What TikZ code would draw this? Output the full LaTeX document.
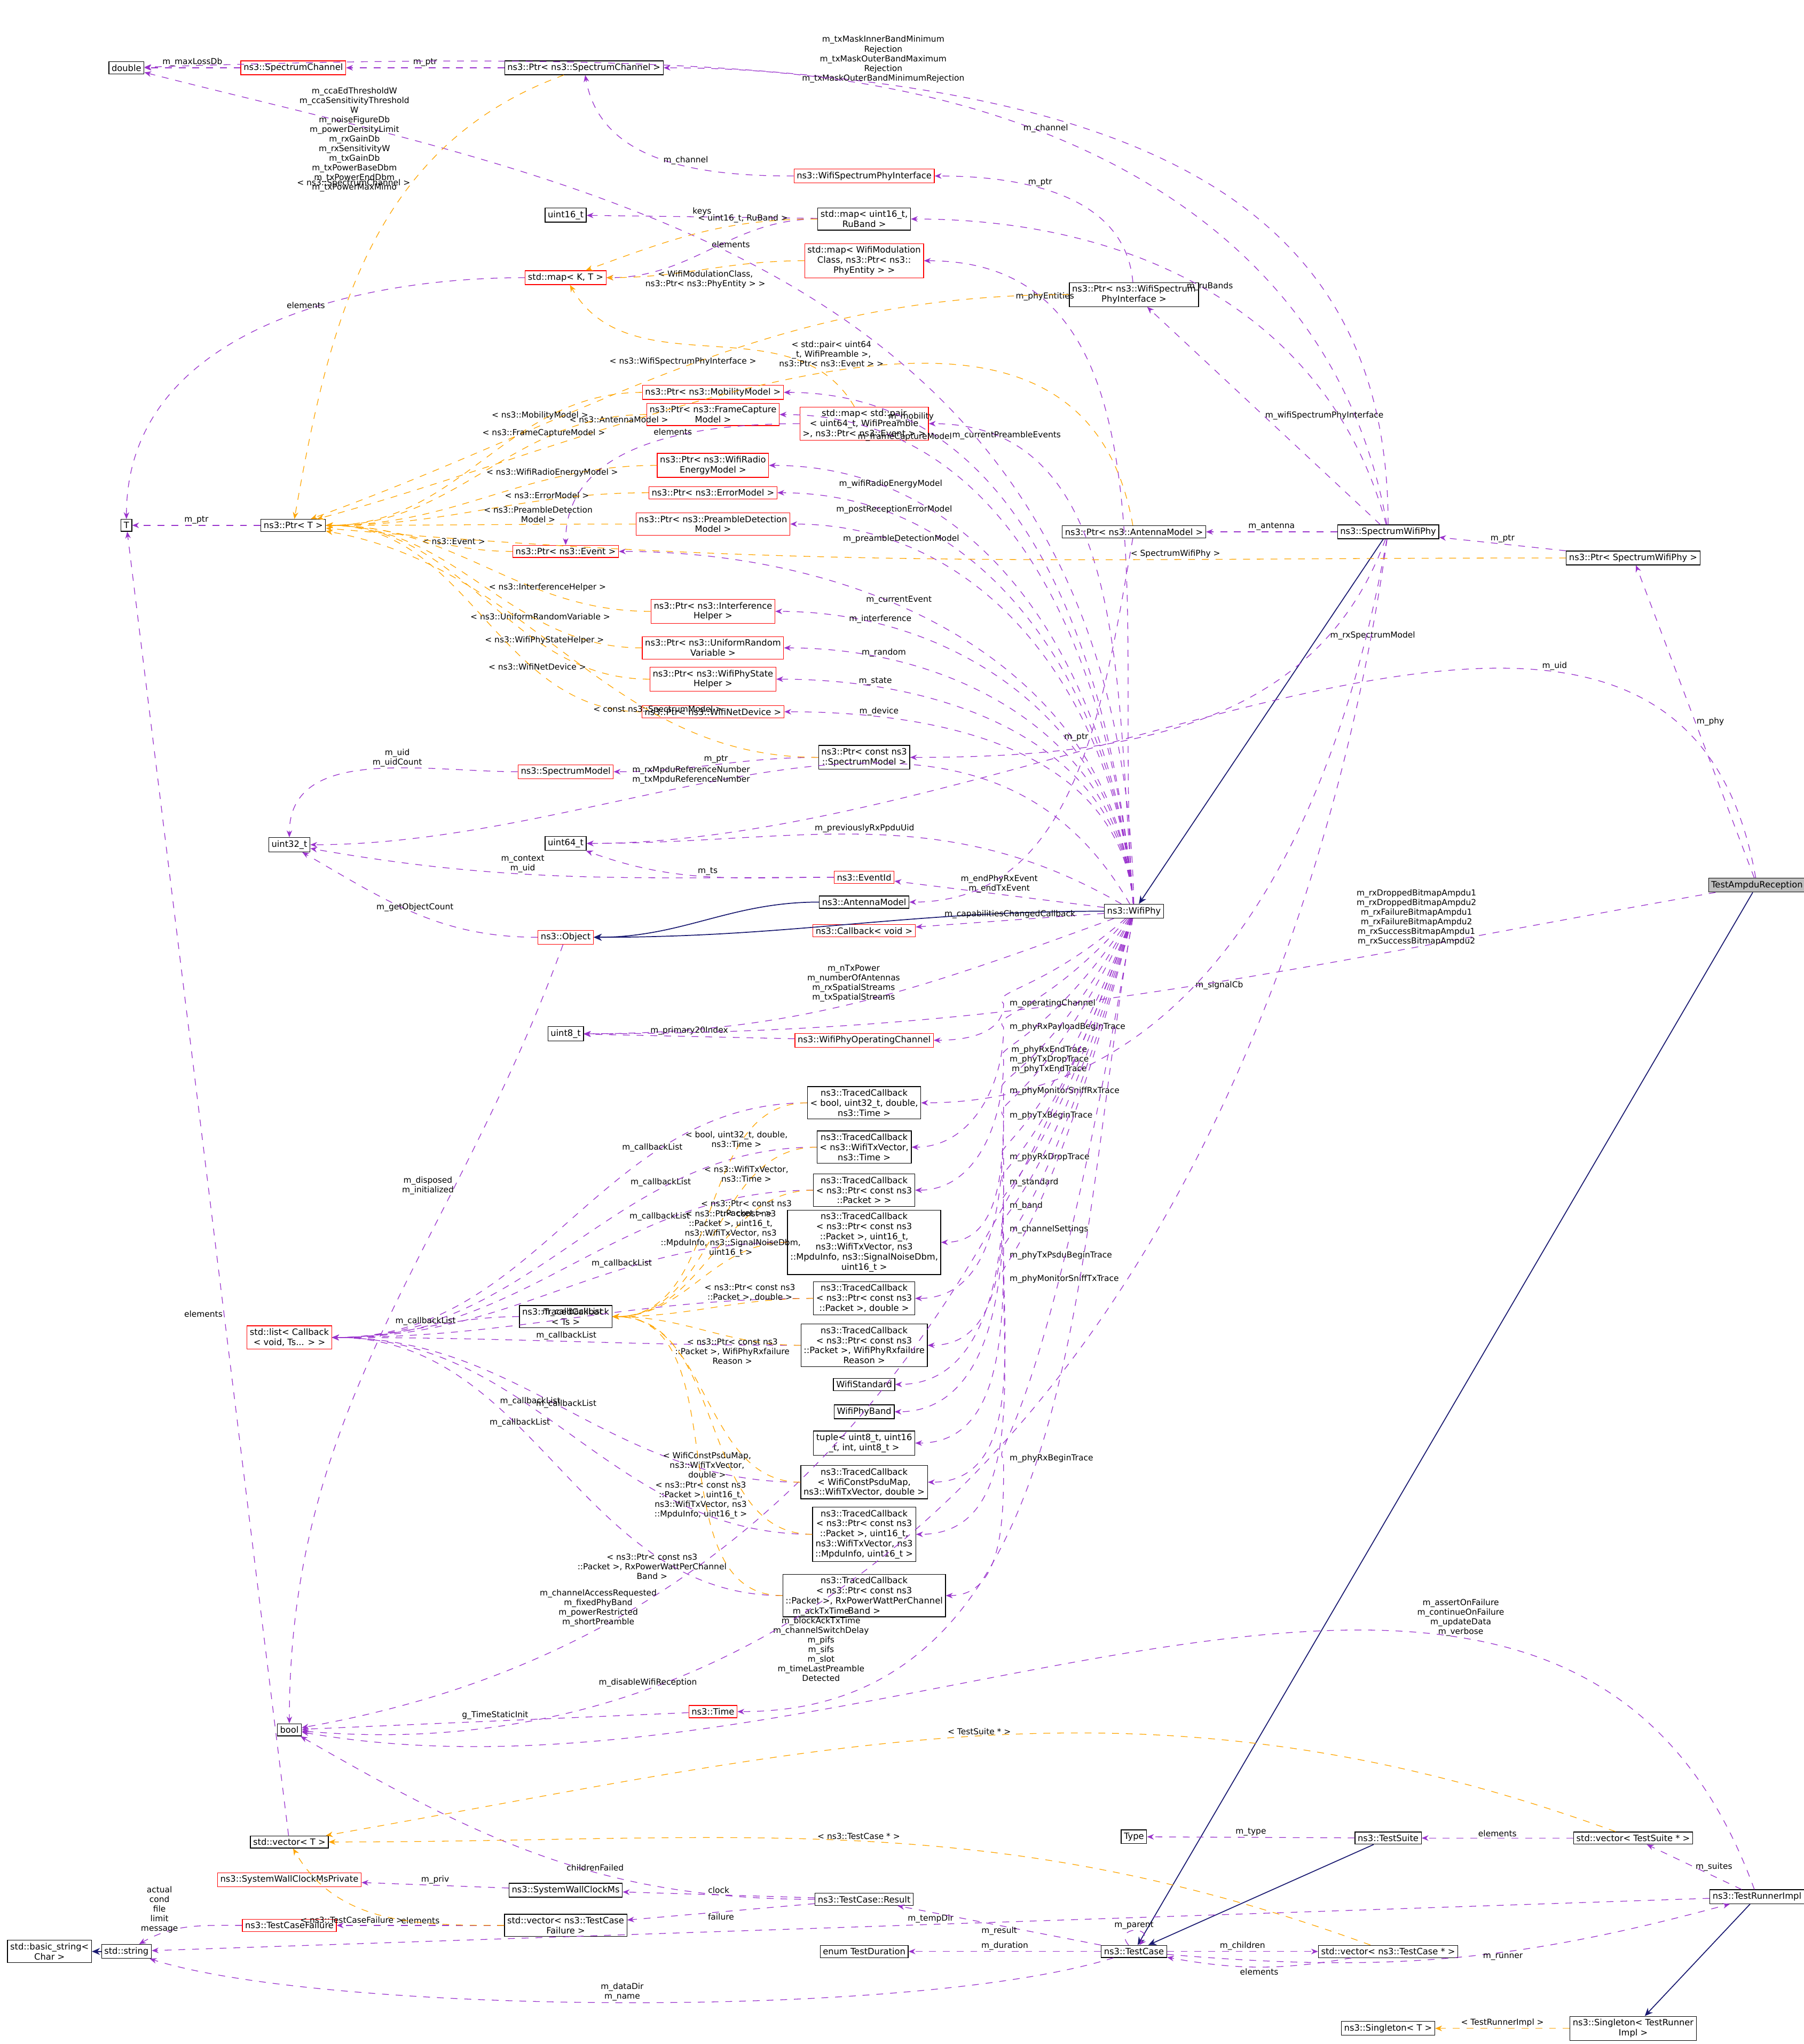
\documentclass[tikz,border=0pt]{standalone}
\usepackage{fontspec}
\setmainfont{DejaVu Sans}
\usetikzlibrary{arrows.meta}
\definecolor{mcol}{RGB}{153,50,204}
\definecolor{tcol}{RGB}{255,165,0}
\definecolor{icol}{RGB}{25,25,112}
\tikzset{
  cls/.style={shape=rectangle, draw=black, line width=0.3pt, fill=white, inner sep=1.2pt, align=center, font=\fontsize{3.8}{4.4}\selectfont},
  redcls/.style={cls, draw=red},
  mem/.style={draw=mcol, dashed, line width=0.3pt, -{Stealth[length=3pt,width=2.4pt]}},
  tpl/.style={draw=tcol, dashed, line width=0.3pt, -{Stealth[length=3pt,width=2.4pt]}},
  inh/.style={draw=icol, line width=0.4pt, -{Stealth[length=3.5pt,width=3pt]}},
  lbl/.style={font=\fontsize{3.6}{4.2}\selectfont, align=center, inner sep=0.5pt},
  fromtop/.style={out=95, in=0},
  toleft/.style={out=180, in=0}
}
\begin{document}
\begin{tikzpicture}[x=0.02cm, y=-0.02cm]
  \useasboundingbox (0,0) rectangle (1384,1568);
  % nodes
  \node[cls] at (97,52) (dbl) {double};
  \node[redcls] at (225,52) (spchan) {ns3::SpectrumChannel};
  \node[cls] at (448,52) (ptrspchan) {ns3::Ptr< ns3::SpectrumChannel >};
  \node[redcls] at (663,135) (wspi) {ns3::WifiSpectrumPhyInterface};
  \node[cls] at (434,165) (u16) {uint16\_t};
  \node[cls] at (663,168) (mapru) {std::map< uint16\_t,\\RuBand >};
  \node[redcls] at (663,200) (mapmod) {std::map< WifiModulation\\Class, ns3::Ptr< ns3::\\PhyEntity > >};
  \node[redcls] at (434,213) (mapkt) {std::map< K, T >};
  \node[cls] at (870,226) (ptrwspi) {ns3::Ptr< ns3::WifiSpectrum\\PhyInterface >};
  \node[redcls] at (547,301) (ptrmob) {ns3::Ptr< ns3::MobilityModel >};
  \node[redcls] at (547,318) (ptrfc) {ns3::Ptr< ns3::FrameCapture\\Model >};
  \node[redcls] at (663,325) (mappair) {std::map< std::pair\\< uint64\_t, WifiPreamble\\>, ns3::Ptr< ns3::Event > >};
  \node[redcls] at (547,357) (ptrenergy) {ns3::Ptr< ns3::WifiRadio\\EnergyModel >};
  \node[redcls] at (547,378) (ptrerr) {ns3::Ptr< ns3::ErrorModel >};
  \node[redcls] at (547,402) (ptrpre) {ns3::Ptr< ns3::PreambleDetection\\Model >};
  \node[cls] at (97,403) (tT) {T};
  \node[cls] at (225,403) (ptrT) {ns3::Ptr< T >};
  \node[redcls] at (434,423) (ptrev) {ns3::Ptr< ns3::Event >};
  \node[cls] at (870,408) (ptrant) {ns3::Ptr< ns3::AntennaModel >};
  \node[cls] at (1065,408) (swphy) {ns3::SpectrumWifiPhy};
  \node[cls] at (1253,428) (ptrswphy) {ns3::Ptr< SpectrumWifiPhy >};
  \node[redcls] at (547,469) (ptrint) {ns3::Ptr< ns3::Interference\\Helper >};
  \node[redcls] at (547,497) (ptrrand) {ns3::Ptr< ns3::UniformRandom\\Variable >};
  \node[redcls] at (547,521) (ptrstate) {ns3::Ptr< ns3::WifiPhyState\\Helper >};
  \node[redcls] at (547,546) (ptrdev) {ns3::Ptr< ns3::WifiNetDevice >};
  \node[cls] at (663,581) (ptrsm) {ns3::Ptr< const ns3\\::SpectrumModel >};
  \node[redcls] at (434,592) (specmodel) {ns3::SpectrumModel};
  \node[cls] at (222,648) (u32) {uint32\_t};
  \node[cls] at (434,647) (u64) {uint64\_t};
  \node[redcls] at (663,673) (evid) {ns3::EventId};
  \node[cls] at (663,692) (antmodel) {ns3::AntennaModel};
  \node[redcls] at (663,714) (cbvoid) {ns3::Callback< void >};
  \node[redcls] at (434,719) (object) {ns3::Object};
  \node[cls] at (870,699) (wifiphy) {ns3::WifiPhy};
  \node[cls, fill=black!25] at (1348,679) (ampdu) {TestAmpduReception};
  \node[cls] at (434,793) (u8) {uint8\_t};
  \node[redcls] at (663,798) (opchan) {ns3::WifiPhyOperatingChannel};
  \node[cls] at (663,846) (tcbool) {ns3::TracedCallback\\< bool, uint32\_t, double,\\ns3::Time >};
  \node[cls] at (663,880) (tctx) {ns3::TracedCallback\\< ns3::WifiTxVector,\\ns3::Time >};
  \node[cls] at (663,913) (tcpkt) {ns3::TracedCallback\\< ns3::Ptr< const ns3\\::Packet > >};
  \node[cls] at (663,953) (tcsniffrx) {ns3::TracedCallback\\< ns3::Ptr< const ns3\\::Packet >, uint16\_t,\\ns3::WifiTxVector, ns3\\::MpduInfo, ns3::SignalNoiseDbm,\\uint16\_t >};
  \node[cls] at (663,996) (tcpktd) {ns3::TracedCallback\\< ns3::Ptr< const ns3\\::Packet >, double >};
  \node[cls] at (434,1010) (tcts) {ns3::TracedCallback\\< Ts >};
  \node[redcls] at (222,1026) (cblist) {std::list< Callback\\< void, Ts... > >};
  \node[cls] at (663,1032) (tcfail) {ns3::TracedCallback\\< ns3::Ptr< const ns3\\::Packet >, WifiPhyRxfailure\\Reason >};
  \node[cls] at (663,1062) (wstd) {WifiStandard};
  \node[cls] at (663,1083) (wband) {WifiPhyBand};
  \node[cls] at (663,1107) (tuple) {tuple< uint8\_t, uint16\\\_t, int, uint8\_t >};
  \node[cls] at (663,1137) (tcpsdu) {ns3::TracedCallback\\< WifiConstPsduMap,\\ns3::WifiTxVector, double >};
  \node[cls] at (663,1177) (tcsnifftx) {ns3::TracedCallback\\< ns3::Ptr< const ns3\\::Packet >, uint16\_t,\\ns3::WifiTxVector, ns3\\::MpduInfo, uint16\_t >};
  \node[cls] at (663,1224) (tcrxp) {ns3::TracedCallback\\< ns3::Ptr< const ns3\\::Packet >, RxPowerWattPerChannel\\Band >};
  \node[redcls] at (547,1313) (time) {ns3::Time};
  \node[cls] at (222,1327) (bool) {bool};
  \node[cls] at (870,1409) (type) {Type};
  \node[cls] at (1065,1410) (suite) {ns3::TestSuite};
  \node[cls] at (1253,1410) (vsuite) {std::vector< TestSuite * >};
  \node[cls] at (222,1413) (vecT) {std::vector< T >};
  \node[redcls] at (222,1442) (swcmp) {ns3::SystemWallClockMsPrivate};
  \node[cls] at (434,1450) (swcm) {ns3::SystemWallClockMs};
  \node[cls] at (663,1457) (result) {ns3::TestCase::Result};
  \node[cls] at (434,1477) (vfail) {std::vector< ns3::TestCase\\Failure >};
  \node[redcls] at (222,1477) (tcfailure) {ns3::TestCaseFailure};
  \node[cls] at (38,1497) (bstr) {std::basic\_string<\\Char >};
  \node[cls] at (97,1497) (str) {std::string};
  \node[cls] at (663,1497) (dur) {enum TestDuration};
  \node[cls] at (870,1497) (testcase) {ns3::TestCase};
  \node[cls] at (1065,1497) (vtc) {std::vector< ns3::TestCase * >};
  \node[cls] at (1348,1455) (runner) {ns3::TestRunnerImpl};
  \node[cls] at (1065,1556) (singT) {ns3::Singleton< T >};
  \node[cls] at (1253,1556) (singR) {ns3::Singleton< TestRunner\\Impl >};

  % inheritance
  \draw[inh] (swphy) -- (wifiphy);
  \draw[inh] (wifiphy) to[out=180, in=0] (object);
  \draw[inh] (antmodel) to[out=180, in=0] (object);
  \draw[inh] (ampdu) -- (testcase);
  \draw[inh] (suite) -- (testcase);
  \draw[inh] (runner) -- (singR);
  \draw[inh] (str) -- (bstr);

  % members
  \draw[mem] (spchan) -- node[lbl, above]{m\_maxLossDb} (dbl);
  \draw[mem] (ptrspchan) -- node[lbl, above]{m\_ptr} (spchan);
  \draw[mem] (swphy) .. controls (1065,60) and (700,32) .. node[lbl, pos=0.62, above]{m\_txMaskInnerBandMinimum\\Rejection\\m\_txMaskOuterBandMaximum\\Rejection\\m\_txMaskOuterBandMinimumRejection} (dbl);
  \draw[mem] (swphy) to[out=100, in=0] node[lbl, pos=0.6, above]{m\_channel} (ptrspchan);
  \draw[mem] (wspi) to[out=180, in=-80] node[lbl, pos=0.4, above]{m\_channel} (ptrspchan);
  \draw[mem] (ptrwspi) to[out=95, in=0] node[lbl, pos=0.6, above]{m\_ptr} (wspi);
  \draw[mem] (swphy) to[out=105, in=0] node[lbl, pos=0.5, above]{m\_ruBands} (mapru);
  \draw[mem] (mapru) -- node[lbl, above]{keys} (u16);
  \draw[mem] (mapru) to[out=180, in=0] node[lbl, pos=0.4, below]{elements} (mapkt);
  \draw[mem] (swphy) -- node[lbl, right]{m\_wifiSpectrumPhyInterface} (ptrwspi);
  \draw[mem] (wifiphy) .. controls (860,200) and (440,140) .. node[lbl, pos=0.8, left]{m\_ccaEdThresholdW\\m\_ccaSensitivityThreshold\\W\\m\_noiseFigureDb\\m\_powerDensityLimit\\m\_rxGainDb\\m\_rxSensitivityW\\m\_txGainDb\\m\_txPowerBaseDbm\\m\_txPowerEndDbm\\m\_txPowerMaxMimo} (dbl);
  \draw[mem] (wifiphy) to[fromtop] node[lbl, pos=0.8, above]{m\_phyEntities} (mapmod);
  \draw[mem] (mapkt) to[out=180, in=90] node[lbl, pos=0.4, above]{elements} (tT);
  \draw[mem] (wifiphy) to[fromtop] node[lbl, pos=0.8, above]{m\_mobility} (ptrmob);
  \draw[mem] (wifiphy) to[fromtop] node[lbl, pos=0.8, above]{m\_frameCaptureModel} (ptrfc);
  \draw[mem] (wifiphy) to[fromtop] node[lbl, pos=0.85, above]{m\_currentPreambleEvents} (mappair);
  \draw[mem] (mappair) to[out=180, in=90] node[lbl, pos=0.4, above]{elements} (ptrev);
  \draw[mem] (wifiphy) to[fromtop] node[lbl, pos=0.8, above]{m\_wifiRadioEnergyModel} (ptrenergy);
  \draw[mem] (wifiphy) to[fromtop] node[lbl, pos=0.8, above]{m\_postReceptionErrorModel} (ptrerr);
  \draw[mem] (wifiphy) to[fromtop] node[lbl, pos=0.8, above]{m\_preambleDetectionModel} (ptrpre);
  \draw[mem] (wifiphy) to[fromtop] node[lbl, pos=0.6, above]{m\_currentEvent} (ptrev);
  \draw[mem] (ptrT) -- node[lbl, above]{m\_ptr} (tT);
  \draw[mem] (swphy) -- node[lbl, above]{m\_antenna} (ptrant);
  \draw[mem] (ptrswphy) -- node[lbl, above]{m\_ptr} (swphy);
  \draw[mem] (wifiphy) to[fromtop] node[lbl, pos=0.8, above]{m\_interference} (ptrint);
  \draw[mem] (wifiphy) to[fromtop] node[lbl, pos=0.8, above]{m\_random} (ptrrand);
  \draw[mem] (wifiphy) to[fromtop] node[lbl, pos=0.8, above]{m\_state} (ptrstate);
  \draw[mem] (wifiphy) to[fromtop] node[lbl, pos=0.8, above]{m\_device} (ptrdev);
  \draw[mem] (swphy) to[out=250, in=0] node[lbl, pos=0.2, right]{m\_rxSpectrumModel} (ptrsm);
  \draw[mem] (ptrsm) to[out=180, in=0] node[lbl, above]{m\_ptr} (specmodel);
  \draw[mem] (specmodel) to[out=180, in=90] node[lbl, pos=0.4, above]{m\_uid\\m\_uidCount} (u32);
  \draw[mem] (ampdu) -- node[lbl, right]{m\_phy} (ptrswphy);
  \draw[mem] (ampdu) to[out=100, in=0] node[lbl, pos=0.3, above]{m\_uid} (u64);
  \draw[mem] (ptrant) to[out=260, in=0] node[lbl, pos=0.4, left]{m\_ptr} (antmodel);
  \draw[mem] (wifiphy) to[out=120, in=0] node[lbl, pos=0.6, above]{m\_rxMpduReferenceNumber\\m\_txMpduReferenceNumber} (u32);
  \draw[mem] (wifiphy) to[out=150, in=0] node[lbl, pos=0.5, above]{m\_previouslyRxPpduUid} (u64);
  \draw[mem] (evid) to[out=180, in=-20] node[lbl, above]{m\_ts} (u64);
  \draw[mem] (evid) to[out=180, in=-10] node[lbl, pos=0.6, above]{m\_context\\m\_uid} (u32);
  \draw[mem] (wifiphy) -- node[lbl, above]{m\_endPhyRxEvent\\m\_endTxEvent} (evid);
  \draw[mem] (wifiphy) -- node[lbl, above]{m\_capabilitiesChangedCallback} (cbvoid);
  \draw[mem] (object) to[out=180, in=-30] node[lbl, above]{m\_getObjectCount} (u32);
  \draw[mem] (object) to[out=250, in=90] node[lbl, pos=0.3, left]{m\_disposed\\m\_initialized} (bool);
  \draw[mem] (wifiphy) to[out=200, in=0] node[lbl, pos=0.5, above]{m\_nTxPower\\m\_numberOfAntennas\\m\_rxSpatialStreams\\m\_txSpatialStreams} (u8);
  \draw[mem] (opchan) -- node[lbl, above]{m\_primary20Index} (u8);
  \draw[mem] (swphy) to[out=260, in=0] node[lbl, pos=0.6, right]{m\_signalCb} (tcbool);
  \draw[mem] (ampdu) to[out=190, in=0] node[lbl, pos=0.25, above]{m\_rxDroppedBitmapAmpdu1\\m\_rxDroppedBitmapAmpdu2\\m\_rxFailureBitmapAmpdu1\\m\_rxFailureBitmapAmpdu2\\m\_rxSuccessBitmapAmpdu1\\m\_rxSuccessBitmapAmpdu2} (u8);
  % WifiPhy members below it: run down at x=760 then turn left into the target
  \foreach \tg/\tx/\ly in {opchan/{m\_operatingChannel}/760, tctx/{m\_phyRxPayloadBeginTrace}/778, tcpkt/{m\_phyRxEndTrace\\m\_phyTxDropTrace\\m\_phyTxEndTrace}/803, tcsniffrx/{m\_phyMonitorSniffRxTrace}/827, tcpktd/{m\_phyTxBeginTrace}/846, tcfail/{m\_phyRxDropTrace}/878, wstd/{m\_standard}/897, wband/{m\_band}/915, tuple/{m\_channelSettings}/933, tcpsdu/{m\_phyTxPsduBeginTrace}/953, tcsnifftx/{m\_phyMonitorSniffTxTrace}/971, tcrxp/{m\_phyRxBeginTrace}/1109}
    \draw[mem] (wifiphy) .. controls (800,\ly) and (760,\ly) .. node[lbl, pos=1, anchor=west, xshift=2pt]{\tx} (770,\ly+10) to[out=270, in=0] (\tg);
  \foreach \tc/\p in {tcbool/0.3, tctx/0.3, tcpkt/0.3, tcsniffrx/0.35, tcpktd/0.5, tcfail/0.5, tcpsdu/0.5, tcsnifftx/0.6, tcrxp/0.6, tcts/0.5}
    \draw[mem] (\tc) to[toleft] node[lbl, pos=\p, above]{m\_callbackList} (cblist);
  \draw[mem] (wifiphy) to[out=250, in=10] node[lbl, pos=0.75, above]{m\_channelAccessRequested\\m\_fixedPhyBand\\m\_powerRestricted\\m\_shortPreamble} (bool);
  \draw[mem] (wifiphy) to[out=260, in=0] node[lbl, pos=0.85, above left]{m\_ackTxTime\\m\_blockAckTxTime\\m\_channelSwitchDelay\\m\_pifs\\m\_sifs\\m\_slot\\m\_timeLastPreamble\\Detected} (time);
  \draw[mem] (time) -- node[lbl, above]{g\_TimeStaticInit} (bool);
  \draw[mem] (swphy) to[out=262, in=-5] node[lbl, pos=0.8, above]{m\_disableWifiReception} (bool);
  \draw[mem] (runner) to[out=110, in=-10] node[lbl, pos=0.3, above]{m\_assertOnFailure\\m\_continueOnFailure\\m\_updateData\\m\_verbose} (bool);
  \draw[mem] (result) to[out=180, in=-30] node[lbl, pos=0.4, above]{childrenFailed} (bool);
  \draw[mem] (vecT) -- node[lbl, pos=0.4, left]{elements} (tT);
  \draw[mem] (suite) -- node[lbl, above]{m\_type} (type);
  \draw[mem] (vsuite) -- node[lbl, above]{elements} (suite);
  \draw[mem] (runner) -- node[lbl, right]{m\_suites} (vsuite);
  \draw[mem] (swcm) -- node[lbl, above]{m\_priv} (swcmp);
  \draw[mem] (result) -- node[lbl, above]{clock} (swcm);
  \draw[mem] (result) -- node[lbl, below]{failure} (vfail);
  \draw[mem] (vfail) -- node[lbl, above]{elements} (tcfailure);
  \draw[mem] (tcfailure) to[out=180, in=30] node[lbl, pos=0.8, above]{actual\\cond\\file\\limit\\message} (str);
  \draw[mem] (runner) -- node[lbl, pos=0.5, above]{m\_tempDir} (str);
  \draw[mem] (testcase) -- node[lbl, below]{m\_result} (result);
  \draw[mem] (testcase) -- node[lbl, above]{m\_duration} (dur);
  \draw[mem] (testcase) to[out=130, in=50, looseness=6] node[lbl, above]{m\_parent} (testcase);
  \draw[mem] (testcase) -- node[lbl, above]{m\_children} (vtc);
  \draw[mem] (vtc) to[bend left=10] node[lbl, below]{elements} (testcase);
  \draw[mem] (testcase) to[bend right=10] node[lbl, pos=0.6, below]{m\_runner} (runner);
  \draw[mem] (testcase) .. controls (700,1550) and (250,1545) .. node[lbl, pos=0.5, above]{m\_dataDir\\m\_name} (str);

  % templates
  \draw[tpl] (ptrspchan) to[out=200, in=80] node[lbl, pos=0.35, left]{< ns3::SpectrumChannel >} (ptrT);
  \draw[tpl] (mapru) to[out=180, in=20] node[lbl, pos=0.3, above]{< uint16\_t, RuBand >} (mapkt);
  \draw[tpl] (mapmod) to[out=180, in=0] node[lbl, pos=0.5, below]{< WifiModulationClass,\\ns3::Ptr< ns3::PhyEntity > >} (mapkt);
  \draw[tpl] (mappair) to[out=120, in=-60] node[lbl, pos=0.3, right]{< std::pair< uint64\\\_t, WifiPreamble >,\\ns3::Ptr< ns3::Event > >} (mapkt);
  \draw[tpl] (ptrwspi) to[out=180, in=20] node[lbl, pos=0.5, above]{< ns3::WifiSpectrumPhyInterface >} (ptrT);
  \draw[tpl] (ptrant) to[out=100, in=15] node[lbl, pos=0.7, above]{< ns3::AntennaModel >} (ptrT);
  \foreach \pp/\tx in {ptrmob/{< ns3::MobilityModel >}, ptrfc/{< ns3::FrameCaptureModel >}, ptrenergy/{< ns3::WifiRadioEnergyModel >}, ptrerr/{< ns3::ErrorModel >}, ptrpre/{< ns3::PreambleDetection\\Model >}, ptrev/{< ns3::Event >}, ptrint/{< ns3::InterferenceHelper >}, ptrrand/{< ns3::UniformRandomVariable >}, ptrstate/{< ns3::WifiPhyStateHelper >}, ptrdev/{< ns3::WifiNetDevice >}}
    \draw[tpl] (\pp) to[toleft] node[lbl, pos=0.3, above]{\tx} (ptrT);
  \draw[tpl] (ptrswphy) to[out=180, in=-5] node[lbl, pos=0.3, above]{< SpectrumWifiPhy >} (ptrT);
  \draw[tpl] (ptrsm) to[out=180, in=-10] node[lbl, pos=0.3, above]{< const ns3::SpectrumModel >} (ptrT);
  \draw[tpl] (tcbool) to[toleft] node[lbl, pos=0.3, above]{< bool, uint32\_t, double,\\ns3::Time >} (tcts);
  \draw[tpl] (tctx) to[toleft] node[lbl, pos=0.3, above]{< ns3::WifiTxVector,\\ns3::Time >} (tcts);
  \draw[tpl] (tcpkt) to[toleft] node[lbl, pos=0.3, above]{< ns3::Ptr< const ns3\\::Packet > >} (tcts);
  \draw[tpl] (tcsniffrx) to[toleft] node[lbl, pos=0.3, above]{< ns3::Ptr< const ns3\\::Packet >, uint16\_t,\\ns3::WifiTxVector, ns3\\::MpduInfo, ns3::SignalNoiseDbm,\\uint16\_t >} (tcts);
  \draw[tpl] (tcpktd) to[toleft] node[lbl, pos=0.3, above]{< ns3::Ptr< const ns3\\::Packet >, double >} (tcts);
  \draw[tpl] (tcfail) to[toleft] node[lbl, pos=0.35, below]{< ns3::Ptr< const ns3\\::Packet >, WifiPhyRxfailure\\Reason >} (tcts);
  \draw[tpl] (tcpsdu) to[toleft] node[lbl, pos=0.2, left]{< WifiConstPsduMap,\\ns3::WifiTxVector,\\double >} (tcts);
  \draw[tpl] (tcsnifftx) to[toleft] node[lbl, pos=0.25, left]{< ns3::Ptr< const ns3\\::Packet >, uint16\_t,\\ns3::WifiTxVector, ns3\\::MpduInfo, uint16\_t >} (tcts);
  \draw[tpl] (tcrxp) to[toleft] node[lbl, pos=0.2, left]{< ns3::Ptr< const ns3\\::Packet >, RxPowerWattPerChannel\\Band >} (tcts);
  \draw[tpl] (vsuite) to[out=160, in=10] node[lbl, pos=0.5, above]{< TestSuite * >} (vecT);
  \draw[tpl] (vtc) to[out=160, in=0] node[lbl, pos=0.5, above]{< ns3::TestCase * >} (vecT);
  \draw[tpl] (vfail) to[out=180, in=-60] node[lbl, pos=0.4, left]{< ns3::TestCaseFailure >} (vecT);
  \draw[tpl] (singR) -- node[lbl, above]{< TestRunnerImpl >} (singT);
\end{tikzpicture}
\end{document}
